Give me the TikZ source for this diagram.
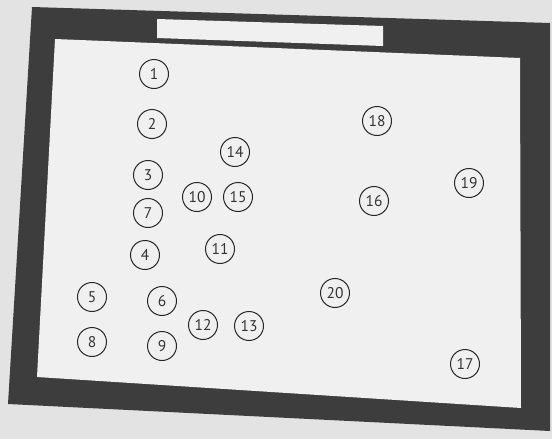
\documentclass[tikz,border=0pt]{standalone}
\usepackage{fontspec}
\setsansfont{PT Sans}
\usepackage{tikz}

\begin{document}
\begin{tikzpicture}[x=1pt,y=-1pt,
		spot/.style={circle,draw=black!85,line width=1pt,minimum size=29pt,inner sep=0pt,
			font=\sffamily\fontsize{15.5}{15.5}\selectfont,text=black!80}]
			% paper and frame
			\fill[black!11] (0,0) rectangle (552,439);
			\fill[black!76] (32,7) -- (550,23) -- (550,431) -- (8,404) -- cycle;
			\fill[black!6] (55,39) -- (520,58) -- (521,408) -- (37,377) -- cycle;
			\fill[black!6] (157,19) -- (383,26) -- (383,46) -- (157,38) -- cycle;
			% positions
			\node[spot] (p1) at (154,74) {1};
			\node[spot] (p2) at (152,124) {2};
			\node[spot] (p3) at (148,175) {3};
			\node[spot] (p7) at (148,213) {7};
			\node[spot] (p4) at (145,255) {4};
			\node[spot] (p5) at (92,297) {5};
			\node[spot] (p6) at (162,301) {6};
			\node[spot] (p8) at (92,342) {8};
			\node[spot] (p9) at (162,346) {9};
			\node[spot] (p10) at (197,197) {10};
			\node[spot] (p15) at (238,197) {15};
			\node[spot] (p14) at (235,152) {14};
			\node[spot] (p11) at (220,249) {11};
			\node[spot] (p12) at (203,325) {12};
			\node[spot] (p13) at (249,326) {13};
			\node[spot] (p18) at (377,121) {18};
			\node[spot] (p16) at (374,201) {16};
			\node[spot] (p19) at (469,183) {19};
			\node[spot] (p20) at (335,293) {20};
			\node[spot] (p17) at (465,364) {17};
		\end{tikzpicture}
\end{document}
